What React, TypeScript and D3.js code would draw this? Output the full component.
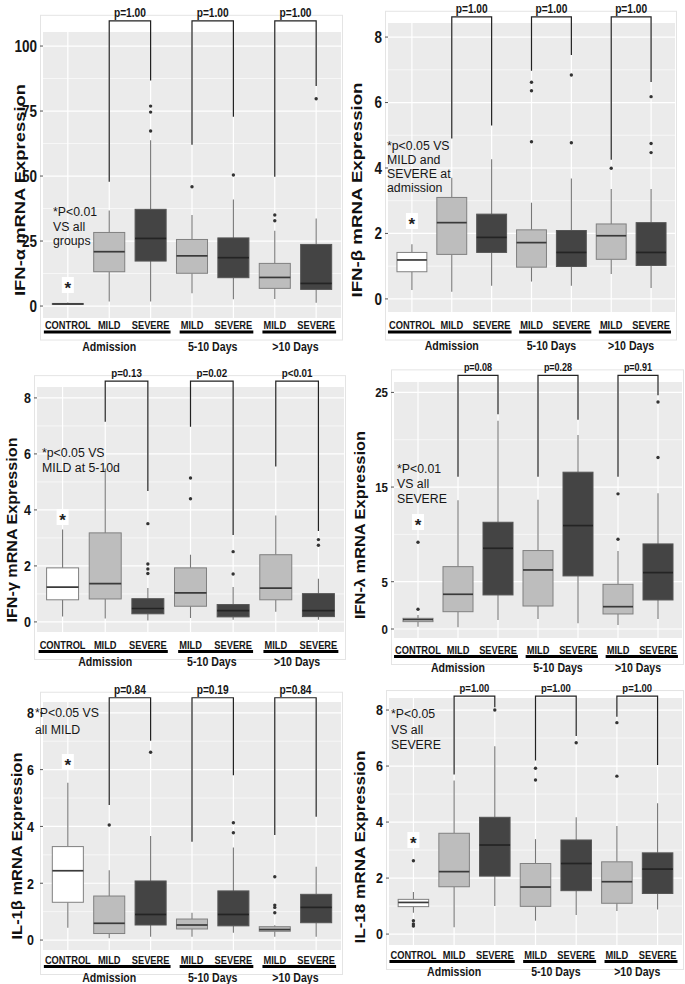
import * as d3 from 'd3'
import { useEffect, useRef } from 'react'

const categories = ['CONTROL', 'MILD', 'SEVERE', 'MILD', 'SEVERE', 'MILD', 'SEVERE']
const groupNames = ['Admission', '5-10 Days', '>10 Days']
const groupRanges = [[0, 2], [3, 4], [5, 6]]
const pairs = [[1, 2], [3, 4], [5, 6]]

// box stats per category: [lower whisker, q1, median, q3, upper whisker]
const alphaBoxes = [
  [0.4, 0.6, 0.8, 1.0, 1.4], [1.7, 13.2, 20.9, 28.3, 36.7], [1.7, 17.3, 26.0, 37.2, 63.8],
  [4.9, 12.6, 19.3, 25.6, 35.0], [2.6, 10.9, 18.6, 26.2, 41.0],
  [2.7, 6.8, 11.0, 16.4, 29.0], [1.3, 6.4, 8.7, 23.7, 33.7]]
const alphaOut = [[], [], [76.9, 74.6, 67.3], [45.9], [50.4], [35.0, 32.8], [79.7]]
const alphaTicks = [0, 25, 50, 75, 100]
const alphaMinor = [12.5, 37.5, 62.5, 87.5]
const alphaP = ['p=1.00', 'p=1.00', 'p=1.00']
const alphaLegs = [[47.8, 86.7], [62, 72.8], [49.7, 84.6]]
const alphaNote = ['*P<0.01', 'VS all', 'groups']

const betaBoxes = [
  [0.27, 0.83, 1.19, 1.42, 1.67], [0.22, 1.36, 2.33, 3.10, 3.70], [0.40, 1.42, 1.88, 2.59, 4.27],
  [0.53, 0.97, 1.72, 2.11, 2.94], [0.40, 0.99, 1.42, 2.09, 3.68],
  [0.76, 1.21, 1.93, 2.29, 3.36], [0.33, 1.02, 1.42, 2.33, 3.36]]
const betaOut = [[], [], [], [6.62, 6.36, 4.80], [6.84, 4.77], [3.99], [6.18, 4.75, 4.47]]
const betaTicks = [0, 2, 4, 6, 8]
const betaMinor = [1, 3, 5, 7]
const betaP = ['p=1.00', 'p=1.00', 'p=1.00']
const betaLegs = [[4.9, 5.3], [6.97, 7.45], [4.25, 6.63]]
const betaNote = ['*p<0.05 VS', 'MILD and', 'SEVERE at', 'admission']

const gammaBoxes = [
  [0.19, 0.79, 1.24, 1.93, 3.30], [0.12, 0.82, 1.37, 3.18, 5.48], [0.05, 0.29, 0.48, 0.83, 1.21],
  [0.14, 0.56, 1.04, 1.93, 2.40], [0.08, 0.18, 0.40, 0.62, 1.25],
  [0.36, 0.79, 1.21, 2.40, 3.80], [0.08, 0.19, 0.40, 1.01, 1.54]]
const gammaOut = [[], [], [3.51, 2.07, 1.89, 1.73], [5.14, 4.40], [2.51, 1.71], [], [2.94, 2.74]]
const gammaTicks = [0, 2, 4, 6, 8]
const gammaMinor = [1, 3, 5, 7]
const gammaP = ['p=0.13', 'p=0.02', 'p<0.01']
const gammaLegs = [[7.15, 4.68], [6.97, 3.1], [5.55, 3.25]]
const gammaNote = ['*p<0.05 VS', 'MILD at 5-10d']

const lambdaBoxes = [
  [0.25, 0.78, 0.99, 1.13, 1.48], [0.18, 1.83, 3.67, 6.59, 13.6], [0.95, 3.60, 8.53, 11.28, 22.0],
  [1.06, 2.43, 6.24, 8.29, 13.65], [0.60, 5.61, 10.93, 16.57, 20.5],
  [0.42, 1.59, 2.36, 4.72, 8.25], [1.06, 3.07, 5.96, 8.99, 14.35]]
const lambdaOut = [[2.08, 9.17], [], [], [], [], [14.28, 9.49], [23.98, 18.12]]
const lambdaTicks = [0, 5, 15, 25]
const lambdaMinor = [10, 20]
const lambdaP = ['p=0.08', 'p=0.28', 'p=0.91']
const lambdaLegs = [[16.1, 22.7], [16.1, 22.1], [16.1, 24.7]]
const lambdaNote = ['*P<0.01', 'VS all', 'SEVERE']

const il1bBoxes = [
  [0.43, 1.33, 2.44, 3.29, 5.54], [0.06, 0.23, 0.59, 1.55, 2.46], [0.12, 0.53, 0.90, 2.08, 3.66],
  [0.12, 0.39, 0.53, 0.74, 0.96], [0.26, 0.50, 0.90, 1.73, 3.26],
  [0.12, 0.31, 0.37, 0.47, 0.52], [0.12, 0.61, 1.15, 1.61, 2.58]]
const il1bOut = [[], [4.05], [6.61], [], [4.13, 3.78], [2.23, 1.23, 1.15, 0.96], []]
const il1bTicks = [0, 2, 4, 6, 8]
const il1bMinor = [1, 3, 5, 7]
const il1bP = ['p=0.84', 'p=0.19', 'p=0.84']
const il1bLegs = [[4.75, 7.02], [3.46, 5.8], [3.7, 4.34]]
const il1bNote = ['*P<0.05 VS', 'all MILD']

const il18Boxes = [
  [0.76, 0.98, 1.13, 1.24, 1.50], [0.24, 1.69, 2.23, 3.60, 5.48], [1.00, 2.07, 3.18, 4.17, 6.71],
  [0.48, 0.99, 1.68, 2.52, 3.39], [0.68, 1.55, 2.52, 3.36, 4.17],
  [0.82, 1.10, 1.87, 2.58, 3.86], [0.88, 1.45, 2.32, 2.90, 4.67]]
const il18Out = [[2.62, 0.48, 0.36, 0.29], [], [8.0], [5.92, 5.5], [6.83], [7.55, 5.64], []]
const il18Ticks = [0, 2, 4, 6, 8]
const il18Minor = [1, 3, 5, 7]
const il18P = ['p=1.00', 'p=1.00', 'p=1.00']
const il18Legs = [[5.7, 8.1], [6.2, 7.07], [7.76, 6.04]]
const il18Note = ['*P<0.05', 'VS all', 'SEVERE']

const FONT = '"Liberation Sans", Arial, sans-serif'
const SY = 1.18 // the source figure is stretched vertically

const panels = [
  { title: 'IFN-α mRNA Expression', boxes: alphaBoxes, out: alphaOut, ticks: alphaTicks, minor: alphaMinor, pv: alphaP, legs: alphaLegs, pTop: 109.7, note: alphaNote,
    x0: 43, x1: 341, y0: 32, y1: 318, domain: [-4.6, 105.4], titleX: 20, titleY: 190, titleLen: 212,
    labelY: 325, barY: 332, groupY: 346, noteX: 53, noteY: 212, noteStep: 14.5, starY: 285, tickSize: 13.5, tickGap: 6, pSize: 10.2 },
  { title: 'IFN-β mRNA Expression', boxes: betaBoxes, out: betaOut, ticks: betaTicks, minor: betaMinor, pv: betaP, legs: betaLegs, pTop: 8.62, note: betaNote,
    x0: 388, x1: 675, y0: 23, y1: 312, domain: [-0.40, 8.43], titleX: 357, titleY: 190, titleLen: 215,
    labelY: 325, barY: 332, groupY: 345, noteX: 387, noteY: 146, noteStep: 14, starY: 221, tickSize: 13.5, tickGap: 6, pSize: 10.2 },
  { title: 'IFN-γ mRNA Expression', boxes: gammaBoxes, out: gammaOut, ticks: gammaTicks, minor: gammaMinor, pv: gammaP, legs: gammaLegs, pTop: 8.6, note: gammaNote,
    x0: 37, x1: 344, y0: 387, y1: 632, domain: [-0.36, 8.39], titleX: 12, titleY: 530, titleLen: 185,
    labelY: 645, barY: 651.5, groupY: 661, noteX: 42, noteY: 453, noteStep: 15, starY: 517, tickSize: 12.5, tickGap: 6, pSize: 9.8 },
  { title: 'IFN-λ mRNA Expression', boxes: lambdaBoxes, out: lambdaOut, ticks: lambdaTicks, minor: lambdaMinor, pv: lambdaP, legs: lambdaLegs, pTop: 26.8, note: lambdaNote,
    x0: 394, x1: 682, y0: 382, y1: 638, domain: [-0.95, 26.1], titleX: 360, titleY: 525, titleLen: 188,
    labelY: 650, barY: 656.5, groupY: 667, noteX: 397, noteY: 469, noteStep: 15, starY: 522, tickSize: 11.5, tickGap: 6, pSize: 9 },
  { title: 'IL-1β mRNA Expression', boxes: il1bBoxes, out: il1bOut, ticks: il1bTicks, minor: il1bMinor, pv: il1bP, legs: il1bLegs, pTop: 8.53, note: il1bNote,
    x0: 43, x1: 341, y0: 702, y1: 950, domain: [-0.35, 8.38], titleX: 17, titleY: 846, titleLen: 187,
    labelY: 960, barY: 966.5, groupY: 977, noteX: 35, noteY: 713, noteStep: 17, starY: 762, tickSize: 12.5, tickGap: 9, pSize: 10.2 },
  { title: 'IL-18 mRNA Expression', boxes: il18Boxes, out: il18Out, ticks: il18Ticks, minor: il18Minor, pv: il18P, legs: il18Legs, pTop: 8.5, note: il18Note,
    x0: 389, x1: 682, y0: 698, y1: 945, domain: [-0.39, 8.43], titleX: 360, titleY: 847, titleLen: 193,
    labelY: 955, barY: 961.5, groupY: 971, noteX: 391, noteY: 714, noteStep: 15.5, starY: 840, tickSize: 12.5, tickGap: 6, pSize: 9.5 },
]

function fillFor(name: string) {
  if (name === 'CONTROL') return '#ffffff'
  if (name === 'MILD') return '#bdbdbd'
  return '#444444'
}

// horizontal text, optionally stretched vertically like the source
function label(g: any, x: number, y: number, s: string, size: number, bold: boolean, anchor = 'middle', sy = SY) {
  return g.append('text')
    .attr('transform', `translate(${x},${y}) scale(1,${sy})`)
    .attr('dy', '0.36em').attr('text-anchor', anchor)
    .attr('font-family', FONT).attr('font-weight', bold ? 'bold' : 'normal')
    .attr('font-size', size).attr('fill', '#161616').text(s)
}

function drawPanel(svg: any, p: any) {
  const x = d3.scalePoint<number>().domain(d3.range(categories.length)).range([p.x0, p.x1]).padding(0.6)
  const y = d3.scaleLinear().domain(p.domain).range([p.y1, p.y0])
  const bw = x.step() * 0.75
  const g = svg.append('g')

  // faint frame around the panel
  g.append('rect').attr('x', p.x0 - 2.5).attr('y', y(p.pTop) - 5.5)
    .attr('width', p.x1 - p.x0 + 4).attr('height', p.barY + 8 - (y(p.pTop) - 5.5))
    .attr('fill', 'none').attr('stroke', '#e4e4e4').attr('stroke-width', 1)

  g.append('rect').attr('x', p.x0).attr('y', p.y0)
    .attr('width', p.x1 - p.x0).attr('height', p.y1 - p.y0).attr('fill', '#ebebeb')

  g.selectAll('.minor').data(p.minor).join('line')
    .attr('x1', p.x0).attr('x2', p.x1).attr('y1', (d: number) => y(d)).attr('y2', (d: number) => y(d))
    .attr('stroke', '#fff').attr('stroke-width', 0.6)
  g.selectAll('.major').data(p.ticks).join('line')
    .attr('x1', p.x0).attr('x2', p.x1).attr('y1', (d: number) => y(d)).attr('y2', (d: number) => y(d))
    .attr('stroke', '#fff').attr('stroke-width', 1.2)
  g.selectAll('.vgrid').data(d3.range(categories.length)).join('line')
    .attr('x1', (d: number) => x(d)).attr('x2', (d: number) => x(d)).attr('y1', p.y0).attr('y2', p.y1)
    .attr('stroke', '#fff').attr('stroke-width', 1.2)

  // y axis
  g.selectAll('.tick').data(p.ticks).join('line')
    .attr('x1', p.x0 - 3).attr('x2', p.x0).attr('y1', (d: number) => y(d)).attr('y2', (d: number) => y(d))
    .attr('stroke', '#555').attr('stroke-width', 1)
  p.ticks.forEach((t: number) => label(g, p.x0 - p.tickGap, y(t), String(t), p.tickSize, true, 'end'))

  g.append('text').attr('transform', `translate(${p.titleX},${p.titleY}) rotate(-90)`)
    .attr('text-anchor', 'middle').attr('dy', '0.36em').attr('font-family', FONT)
    .attr('font-weight', 'bold').attr('font-size', 15).attr('fill', '#111')
    .attr('textLength', p.titleLen).attr('lengthAdjust', 'spacingAndGlyphs').text(p.title)

  // note + star
  p.note.forEach((t: string, i: number) => label(g, p.noteX, p.noteY + i * p.noteStep, t, 12.3, false, 'start', 1))
  g.append('rect').attr('x', x(0)! - 6).attr('y', p.starY - 8).attr('width', 12).attr('height', 16).attr('fill', '#fff')
  g.append('text').attr('x', x(0)).attr('y', p.starY + 9).attr('text-anchor', 'middle')
    .attr('font-family', FONT).attr('font-weight', 'bold').attr('font-size', 17).attr('fill', '#222').text('*')

  // boxes
  p.boxes.forEach((b: number[], i: number) => {
    const cx = x(i)!
    const dark = categories[i] === 'SEVERE'
    const edge = dark ? '#555' : '#808080'
    g.append('line').attr('x1', cx).attr('x2', cx).attr('y1', y(b[0])).attr('y2', y(b[1]))
      .attr('stroke', '#777').attr('stroke-width', 1.1)
    g.append('line').attr('x1', cx).attr('x2', cx).attr('y1', y(b[3])).attr('y2', y(b[4]))
      .attr('stroke', '#777').attr('stroke-width', 1.1)
    g.append('rect').attr('x', cx - bw / 2).attr('y', y(b[3])).attr('width', bw)
      .attr('height', Math.max(1, y(b[1]) - y(b[3])))
      .attr('fill', fillFor(categories[i])).attr('stroke', edge).attr('stroke-width', 1)
    g.append('line').attr('x1', cx - bw / 2).attr('x2', cx + bw / 2).attr('y1', y(b[2])).attr('y2', y(b[2]))
      .attr('stroke', dark ? '#242424' : '#3a3a3a').attr('stroke-width', 1.7)
    g.selectAll(null).data(p.out[i]).join('circle')
      .attr('cx', cx).attr('cy', (d: number) => y(d)).attr('r', 1.7).attr('fill', '#333')
  })

  // significance brackets
  pairs.forEach((pr, k) => {
    const xa = x(pr[0])!, xb = x(pr[1])!
    const top = y(p.pTop)
    g.append('path')
      .attr('d', `M${xa},${y(p.legs[k][0])}V${top}H${xb}V${y(p.legs[k][1])}`)
      .attr('fill', 'none').attr('stroke', '#222').attr('stroke-width', 1.2)
    label(g, (xa + xb) / 2, top - 8, p.pv[k], p.pSize, true)
  })

  // category labels + group underline
  const labs: any[] = categories.map((c, i) => label(g, x(i)!, p.labelY, c, 9.3, true))
  groupRanges.forEach((r, k) => {
    const wa = labs[r[0]].node().getBBox().width
    const wb = labs[r[1]].node().getBBox().width
    const left = x(r[0])! - wa / 2 - 1, right = x(r[1])! + wb / 2 + 1
    g.append('line').attr('x1', left).attr('x2', right).attr('y1', p.barY).attr('y2', p.barY)
      .attr('stroke', '#000').attr('stroke-width', 2.8)
    label(g, (x(r[0])! + x(r[1])!) / 2, p.groupY, groupNames[k], 10.6, true)
  })
}

export default function App() {
  const ref = useRef<SVGSVGElement>(null)
  useEffect(() => {
    const svg = d3.select(ref.current)
    svg.selectAll('*').remove()
    svg.append('rect').attr('width', 685).attr('height', 984).attr('fill', '#fff')
    panels.forEach(p => drawPanel(svg, p))
  }, [])
  return (
    <svg ref={ref} width={685} height={984}
      style={{ position: 'absolute', left: 0, top: 0, background: '#fff' }} />
  )
}
